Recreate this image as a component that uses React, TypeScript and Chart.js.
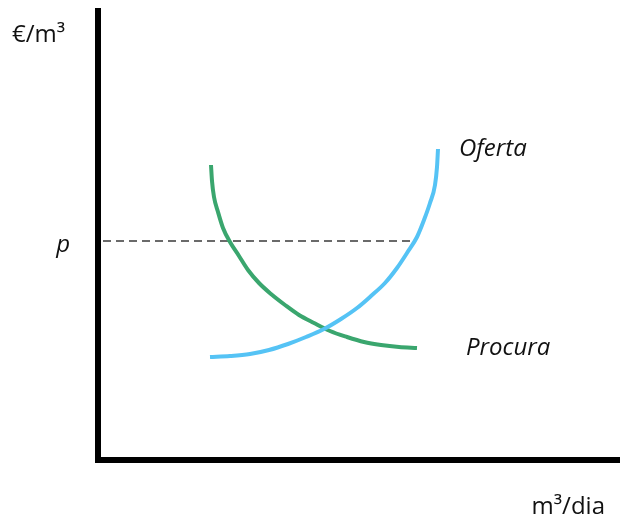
import React, { useEffect, useRef } from "react";
import { Chart, registerables } from "chart.js";

Chart.register(...registerables);

// Supply curve (Oferta): quantity / price
const supplyQty = [112, 132, 152, 171, 190, 208, 226, 243, 259, 273, 287, 299, 309, 319, 326, 332, 337, 339, 340];
const supplyPrice = [103, 104, 106, 110, 116, 123, 131, 141, 152, 164, 177, 192, 207, 223, 240, 257, 275, 293, 311];

// Demand curve (Procura): quantity / price
const demandQty = [113, 114, 116, 120, 125, 132, 141, 150, 161, 173, 187, 201, 216, 232, 249, 266, 283, 301, 319];
const demandPrice = [295, 279, 263, 248, 232, 218, 204, 190, 177, 166, 155, 145, 137, 129, 123, 118, 115, 113, 112];

// Market price level p and the dashed guide line
const priceLevel = 219;
const priceLineQty = [5, 318];
const priceTickLabel = "p";

// Texts
const curveLabels = ["Oferta", "Procura"];
const yAxisLabel = "€/m³";
const xAxisLabel = "m³/dia";

// Axis ranges
const qtyRange = [0, 522];
const priceRange = [0, 449];

const FONT = '"Open Sans", "Noto Sans", sans-serif';

const textPlugin = {
  id: "economicsText",
  afterDraw(chart: any) {
    const ctx = chart.ctx as CanvasRenderingContext2D;
    const xs = chart.scales.x;
    const ys = chart.scales.y;
    ctx.save();
    ctx.fillStyle = "#111111";
    ctx.textBaseline = "alphabetic";
    ctx.font = `24px ${FONT}`;
    ctx.textAlign = "left";
    ctx.fillText(yAxisLabel, 12, 42);
    ctx.textAlign = "right";
    ctx.fillText(xAxisLabel, 605, 514);

    ctx.font = `italic 24px ${FONT}`;
    ctx.textAlign = "left";
    const sl = supplyQty.length - 1;
    const sx = xs.getPixelForValue(supplyQty[sl]);
    const sy = ys.getPixelForValue(supplyPrice[sl]);
    ctx.fillText(curveLabels[0], sx + 21, sy + 7);
    const dl = demandQty.length - 1;
    const dx = xs.getPixelForValue(demandQty[dl]);
    const dy = ys.getPixelForValue(demandPrice[dl]);
    ctx.fillText(curveLabels[1], dx + 49, dy + 7);
    ctx.restore();
  },
};

export default function App() {
  const canvasRef = useRef<HTMLCanvasElement | null>(null);

  useEffect(() => {
    if (!canvasRef.current) return;
    const supplyData = supplyQty.map((q, i) => ({ x: q, y: supplyPrice[i] }));
    const demandData = demandQty.map((q, i) => ({ x: q, y: demandPrice[i] }));
    const priceData = priceLineQty.map((q) => ({ x: q, y: priceLevel }));

    const chart = new Chart(canvasRef.current, {
      type: "line",
      data: {
        datasets: [
          {
            label: curveLabels[0],
            data: supplyData,
            borderColor: "#55c3f5",
            borderWidth: 4,
            borderCapStyle: "butt",
            borderJoinStyle: "round",
            pointRadius: 0,
            cubicInterpolationMode: "monotone",
            fill: false,
          },
          {
            label: curveLabels[1],
            data: demandData,
            borderColor: "#3aa66e",
            borderWidth: 4,
            borderCapStyle: "butt",
            borderJoinStyle: "round",
            pointRadius: 0,
            cubicInterpolationMode: "monotone",
            fill: false,
          },
          {
            label: "p",
            data: priceData,
            borderColor: "#3a3a3a",
            borderWidth: 1.5,
            borderDash: [8, 5],
            pointRadius: 0,
            fill: false,
          },
        ],
      },
      options: {
        animation: false,
        responsive: false,
        layout: { padding: { left: 50, right: 0, top: 11, bottom: 62 } },
        plugins: {
          legend: { display: false },
          tooltip: { enabled: false },
        },
        scales: {
          x: {
            type: "linear",
            min: qtyRange[0],
            max: qtyRange[1],
            grid: { display: false, drawTicks: false },
            border: { display: true, color: "#000000", width: 6 },
            ticks: { display: false },
          },
          y: {
            type: "linear",
            min: priceRange[0],
            max: priceRange[1],
            grid: { display: false, drawTicks: false },
            border: { display: true, color: "#000000", width: 6 },
            afterBuildTicks: (scale: any) => {
              scale.ticks = [{ value: priceLevel }];
            },
            afterFit: (scale: any) => {
              scale.width = 48;
              scale.paddingTop = 0;
              scale.paddingBottom = 0;
            },
            ticks: {
              display: true,
              padding: 28,
              labelOffset: 4,
              color: "#111111",
              font: { family: FONT, size: 24, style: "italic" },
              callback: () => priceTickLabel,
            },
          },
        },
      },
      plugins: [textPlugin],
    });
    return () => chart.destroy();
  }, []);

  return (
    <canvas
      ref={canvasRef}
      width={620}
      height={522}
      style={{ position: "fixed", left: 0, top: 0, width: 620, height: 522, background: "#ffffff" }}
    />
  );
}
